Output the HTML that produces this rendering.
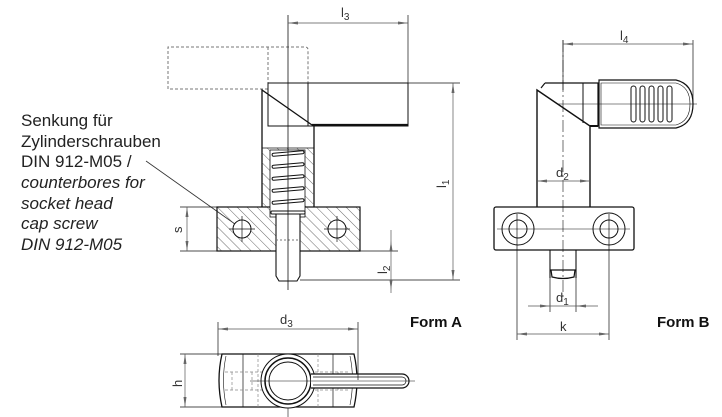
<!DOCTYPE html>
<html><head><meta charset="utf-8"><style>
html,body{margin:0;padding:0;background:#fff;width:722px;height:417px;overflow:hidden}
svg{display:block}
.t{font-family:"Liberation Sans",sans-serif;font-size:17px;fill:#222}
.i{font-style:italic}
.d{font-family:"Liberation Sans",sans-serif;font-size:13px;fill:#333}
.b{font-family:"Liberation Sans",sans-serif;font-size:15px;font-weight:bold;fill:#111}
</style></head><body>
<svg width="722" height="417" viewBox="0 0 722 417" xmlns="http://www.w3.org/2000/svg">
<defs>
<pattern id="h" width="7" height="7" patternUnits="userSpaceOnUse" patternTransform="rotate(-45)">
<line x1="0" y1="0" x2="0" y2="7" stroke="#444" stroke-width="0.8"/></pattern>
<marker id="a" markerWidth="10" markerHeight="6" refX="10" refY="3" orient="auto-start-reverse" markerUnits="userSpaceOnUse">
<path d="M0,1.5 L10,3 L0,4.5z" fill="#666"/></marker>
</defs>
<g class="t">
<text x="21" y="126">Senkung für</text>
<text x="21" y="147">Zylinderschrauben</text>
<text x="21" y="167">DIN 912-M05 /</text>
<text class="i" x="21" y="188">counterbores for</text>
<text class="i" x="21" y="209">socket head</text>
<text class="i" x="21" y="229">cap screw</text>
<text class="i" x="21" y="250">DIN 912-M05</text>
</g>
<line x1="146" y1="161" x2="242" y2="229" stroke="#333" stroke-width="0.8"/>

<g fill="none" stroke="#111" stroke-width="1">
<!-- FORM A -->
<path d="M268,89 L168,89 L168,47 L305,47 Q308,47 308,50 L308,83 M268,47 L268,83" stroke="#777" stroke-dasharray="3,2"/>
<rect x="268" y="83" width="140" height="43"/>
<line x1="308" y1="83" x2="308" y2="126"/>
<line x1="312" y1="125" x2="408" y2="125" stroke-width="2.2"/>
<path d="M262,207 L262,90 L312,125 M314,126 L314,207" stroke-width="1.3"/>
<path d="M262,148 L314,148 L314,207 L262,207z" fill="url(#h)" stroke="none"/>
<rect x="217" y="207" width="143" height="44" fill="url(#h)" stroke-width="1.2"/>
<rect x="270" y="150" width="35" height="67" fill="#fff" stroke-width="0.8"/>
<line x1="262" y1="148" x2="314" y2="148" stroke-width="0.8"/>
<g stroke-width="1">
<rect x="272" y="152" width="32" height="3" rx="1.5" transform="rotate(-5 288 153)"/>
<rect x="272" y="164" width="32" height="3" rx="1.5" transform="rotate(-5 288 165)"/>
<rect x="272" y="176" width="32" height="3" rx="1.5" transform="rotate(-5 288 177)"/>
<rect x="272" y="188" width="32" height="3" rx="1.5" transform="rotate(-5 288 189)"/>
<rect x="272" y="200" width="32" height="3" rx="1.5" transform="rotate(-5 288 201)"/>
<rect x="271" y="211" width="34" height="3" rx="1"/>
</g>
<path d="M276,214 L276,276 L279,281 L297,281 L300,276 L300,214z" fill="#fff" stroke-width="1.1"/>
<path d="M276,240 L300,240" stroke="#777" stroke-dasharray="2,2"/>
<circle cx="242" cy="229" r="9" fill="#fff"/><circle cx="337" cy="229" r="9" fill="#fff"/>
<path d="M229,229h26M242,216v26M324,229h26M337,216v26" stroke-width="0.7"/>
<line x1="288" y1="15" x2="288" y2="290" stroke-width="0.8"/>
<line x1="408" y1="15" x2="408" y2="83" stroke-width="0.7"/>
<line x1="288" y1="23" x2="408" y2="23" stroke="#555" stroke-width="0.7" marker-start="url(#a)" marker-end="url(#a)"/>
<line x1="408" y1="83" x2="460" y2="83" stroke-width="0.7"/>
<line x1="300" y1="280" x2="460" y2="280" stroke-width="0.7"/>
<line x1="453" y1="83" x2="453" y2="280" stroke="#555" stroke-width="0.7" marker-start="url(#a)" marker-end="url(#a)"/>
<line x1="360" y1="251" x2="398" y2="251" stroke-width="0.7"/>
<line x1="391" y1="230" x2="391" y2="293" stroke="#555" stroke-width="0.7"/>
<path d="M391,241 l-1.5,10 h3z M391,290 l-1.5,-10 h3z" fill="#666" stroke="none"/>
<line x1="180" y1="207" x2="217" y2="207" stroke-width="0.7"/>
<line x1="180" y1="251" x2="217" y2="251" stroke-width="0.7"/>
<line x1="187" y1="207" x2="187" y2="251" stroke="#555" stroke-width="0.7" marker-start="url(#a)" marker-end="url(#a)"/>

<!-- FORM B -->
<path d="M545,83 L598,83 L598,126 L590,126 M545,83 L541,88" stroke-width="1.2"/>
<line x1="583" y1="83" x2="583" y2="123"/>
<path d="M599,80 L676,80 Q693,84 693,104 Q693,124 676,128 L599,128z" stroke-width="1.2"/>
<path d="M601,83 L676,83 Q690,87 690,104 Q690,121 676,125 L601,125z" stroke-width="0.6"/>
<g stroke-width="1">
<rect x="631" y="86" width="5" height="36" rx="2.5"/><rect x="640" y="86" width="5" height="36" rx="2.5"/><rect x="649" y="86" width="5" height="36" rx="2.5"/><rect x="658" y="86" width="5" height="36" rx="2.5"/><rect x="667" y="86" width="5" height="36" rx="2.5"/>
</g>
<path d="M537,207 L537,90 L590,126 L590,207" stroke-width="1.4"/>
<line x1="590" y1="126" x2="598" y2="126" stroke-width="2"/>
<rect x="494" y="207" width="140" height="43" rx="2" stroke-width="1.3"/>
<circle cx="518" cy="229" r="16"/><circle cx="518" cy="229" r="9"/>
<circle cx="609" cy="229" r="16"/><circle cx="609" cy="229" r="9"/>
<line x1="497" y1="229" x2="630" y2="229" stroke-width="0.6"/>
<path d="M550,250 L550,278 M576,250 L576,278" stroke-width="1.1"/>
<path d="M551,270 L575,270 L574,277 Q563,280 552,277z" stroke-width="1.2"/>
<line x1="563" y1="40" x2="563" y2="300" stroke-width="0.6" stroke-dasharray="12,3,2,3"/>
<line x1="563" y1="40" x2="563" y2="90" stroke-width="0.7"/>
<line x1="693" y1="40" x2="693" y2="105" stroke-width="0.7"/>
<line x1="563" y1="44" x2="693" y2="44" stroke="#555" stroke-width="0.7" marker-start="url(#a)" marker-end="url(#a)"/>
<line x1="557" y1="104" x2="697" y2="104" stroke-width="0.6"/>
<line x1="537" y1="181" x2="590" y2="181" stroke="#555" stroke-width="0.7" marker-start="url(#a)" marker-end="url(#a)"/>
<line x1="550" y1="278" x2="550" y2="312" stroke-width="0.7"/>
<line x1="576" y1="278" x2="576" y2="312" stroke-width="0.7"/>
<line x1="528" y1="306" x2="598" y2="306" stroke="#555" stroke-width="0.7"/>
<path d="M550,306 l-10,-1.5 v3z M576,306 l10,-1.5 v3z" fill="#666" stroke="none"/>
<line x1="517" y1="214" x2="517" y2="340" stroke-width="0.7"/>
<line x1="609" y1="214" x2="609" y2="340" stroke-width="0.7"/>
<line x1="517" y1="334" x2="609" y2="334" stroke="#555" stroke-width="0.7" marker-start="url(#a)" marker-end="url(#a)"/>

<!-- BOTTOM VIEW -->
<path d="M222,354 L354,354 Q360,380 354,407 L222,407 Q216,380 222,354z" stroke-width="1.3"/>
<path d="M226,356 Q221,380 226,405 M350,356 Q355,380 350,405" stroke-width="0.6"/>
<line x1="243" y1="354" x2="243" y2="407" stroke-width="0.7"/>
<line x1="333" y1="354" x2="333" y2="407" stroke-width="0.7"/>
<g stroke="#888" stroke-dasharray="3,2" stroke-width="0.7">
<path d="M225,372 H262 M225,390 H262 M232,372 V390 M252,372 V390 M258,354 V407 M318,354 V407 M315,372 H350 M315,390 H350 M338,372 V390"/>
</g>
<path d="M288,354 V417" stroke-width="0.6"/>
<circle cx="288" cy="381" r="27" fill="#fff" stroke-width="1"/>
<circle cx="288" cy="381" r="23" stroke-width="1.5"/>
<circle cx="288" cy="381" r="19" stroke-width="1"/>
<path d="M311,374 L402,374 A7,7 0 0 1 402,388 L311,388" fill="#fff" stroke-width="1.2"/>
<path d="M313,377 L402,377 A4,4 0 0 1 402,385 L313,385" stroke-width="0.7"/>
<line x1="250" y1="381" x2="415" y2="381" stroke-width="0.5"/>
<line x1="218" y1="322" x2="218" y2="356" stroke-width="0.7"/>
<line x1="358" y1="322" x2="358" y2="380" stroke-width="0.7"/>
<line x1="218" y1="329" x2="358" y2="329" stroke="#555" stroke-width="0.7" marker-start="url(#a)" marker-end="url(#a)"/>
<line x1="180" y1="354" x2="222" y2="354" stroke-width="0.7"/>
<line x1="180" y1="407" x2="222" y2="407" stroke-width="0.7"/>
<line x1="185" y1="354" x2="185" y2="407" stroke="#555" stroke-width="0.7" marker-start="url(#a)" marker-end="url(#a)"/>
</g>

<g class="d">
<text x="341" y="17">l<tspan font-size="10" dy="3">3</tspan></text>
<text x="620" y="40">l<tspan font-size="10" dy="3">4</tspan></text>
<text x="556" y="177">d<tspan font-size="10" dy="3">2</tspan></text>
<text x="556" y="302">d<tspan font-size="10" dy="3">1</tspan></text>
<text x="560" y="331">k</text>
<text x="280" y="324">d<tspan font-size="10" dy="3">3</tspan></text>
<text transform="translate(182,387) rotate(-90)">h</text>
<text transform="translate(182,233) rotate(-90)">s</text>
<text transform="translate(446,188) rotate(-90)">l<tspan font-size="10" dy="3">1</tspan></text>
<text transform="translate(387,274) rotate(-90)">l<tspan font-size="10" dy="3">2</tspan></text>
</g>
<text class="b" x="410" y="327">Form A</text>
<text class="b" x="657" y="327">Form B</text>
</svg>
</body></html>
